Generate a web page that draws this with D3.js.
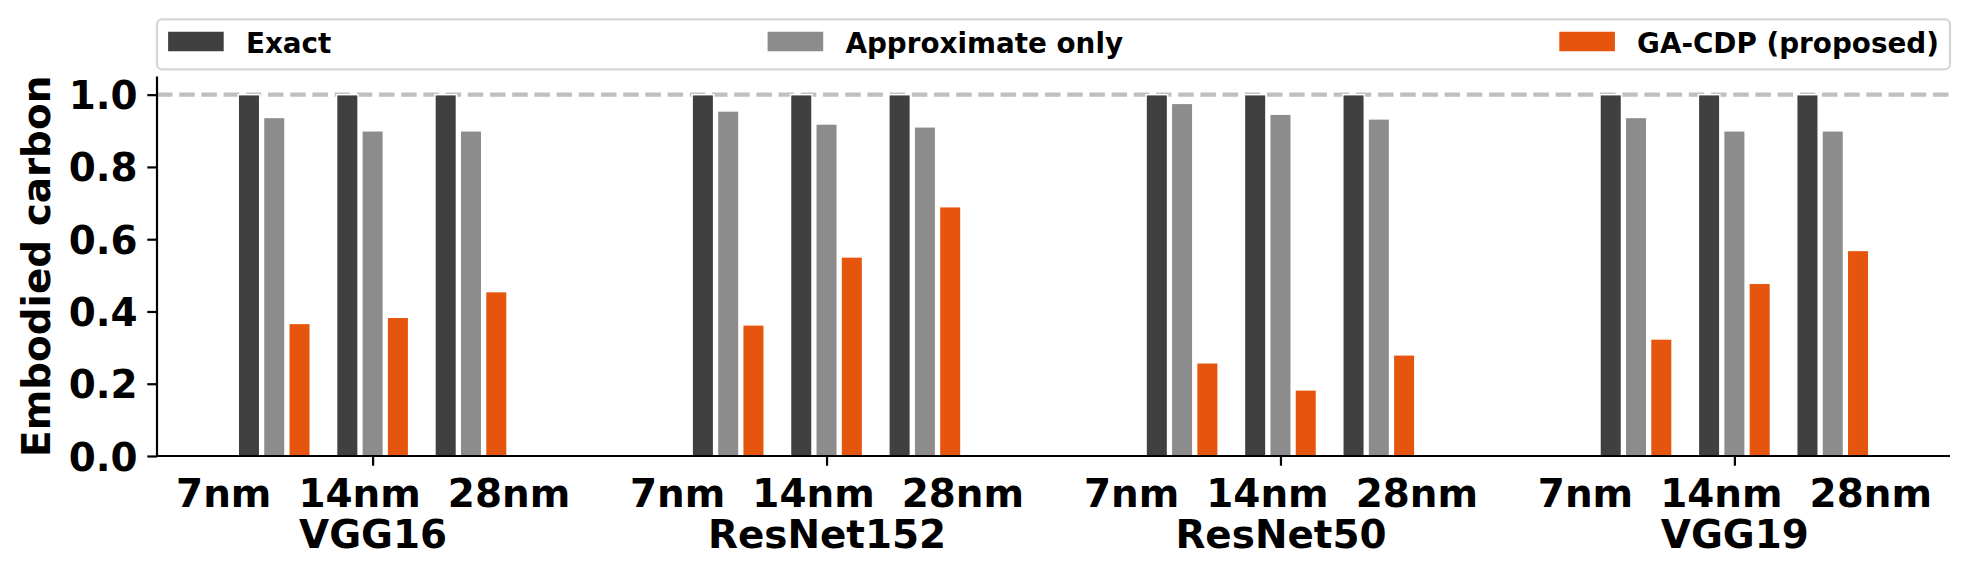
<!DOCTYPE html>
<html>
<head>
<meta charset="utf-8">
<script src="https://cdn.jsdelivr.net/npm/d3@7"></script>
<style>
  html, body { margin: 0; padding: 0; background: #ffffff; }
  svg { display: block; font-family: "DejaVu Sans", sans-serif; font-weight: bold; }
</style>
</head>
<body>
<svg id="chart" width="1970" height="577"></svg>
<script>
// ---- data ----
const models = ["VGG16", "ResNet152", "ResNet50", "VGG19"];
const nodes = ["7nm", "14nm", "28nm"];
const seriesNames = ["Exact", "Approximate only", "GA-CDP (proposed)"];
const seriesColors = ["#404040", "#8c8c8c", "#e6550d"];
// values per model, ordered by node (7nm, 14nm, 28nm)
const exactValues = [
  [1.0, 1.0, 1.0],
  [1.0, 1.0, 1.0],
  [1.0, 1.0, 1.0],
  [1.0, 1.0, 1.0]
];
const approxValues = [
  [0.937, 0.900, 0.900],
  [0.955, 0.919, 0.911],
  [0.976, 0.946, 0.933],
  [0.937, 0.900, 0.900]
];
const gacdpValues = [
  [0.367, 0.384, 0.455],
  [0.363, 0.551, 0.690],
  [0.258, 0.183, 0.280],
  [0.324, 0.478, 0.569]
];
const yTicks = [0.0, 0.2, 0.4, 0.6, 0.8, 1.0];
const referenceLine = 1.0;
const yLabel = "Embodied carbon";

// ---- layout ----
const svg = d3.select("#chart");
const plotLeft = 157, plotRight = 1950, plotTop = 76.6, plotBottom = 456;
const x = d3.scaleLinear().domain([-0.475, models.length - 1 + 0.475]).range([plotLeft, plotRight]);
const y = d3.scaleLinear().domain([0, 1.05]).range([plotBottom, plotTop]);
const subOffset = 0.2167;   // distance between node sub-groups (group units)
const barStep = 0.0557;     // distance between bars inside a sub-group
const barW = x(0.0474) - x(0);

// dashed reference line
svg.append("line")
  .attr("x1", plotLeft).attr("x2", plotRight)
  .attr("y1", y(referenceLine)).attr("y2", y(referenceLine))
  .attr("stroke", "#bfbfbf").attr("stroke-width", 4.2)
  .attr("stroke-dasharray", "15.5,6.7");

// bars
const allSeries = [exactValues, approxValues, gacdpValues];
const barData = [];
models.forEach((m, gi) => {
  nodes.forEach((n, ni) => {
    allSeries.forEach((vals, si) => {
      barData.push({ g: gi, n: ni, s: si, v: vals[gi][ni] });
    });
  });
});
svg.append("g").selectAll("rect").data(barData).join("rect")
  .attr("x", d => x(d.g + (d.n - 1) * subOffset + (d.s - 1) * barStep) - barW / 2)
  .attr("width", barW)
  .attr("y", d => y(d.v))
  .attr("height", d => y(0) - y(d.v))
  .attr("fill", d => seriesColors[d.s])
  .attr("stroke", "#ffffff")
  .attr("stroke-width", 1.5);

// y axis
const yAxis = svg.append("g")
  .attr("transform", `translate(${plotLeft},0)`)
  .call(d3.axisLeft(y).tickValues(yTicks).tickFormat(d3.format(".1f")).tickSize(9.7).tickPadding(9.7));
yAxis.select(".domain").attr("stroke", "#000").attr("stroke-width", 2.2).attr("d", `M0,${plotBottom}V${plotTop}`);
yAxis.selectAll(".tick line").attr("stroke", "#000").attr("stroke-width", 2.2);
yAxis.selectAll(".tick text")
  .attr("fill", "#000").attr("font-size", 38.9).attr("font-weight", "bold")
  .attr("font-family", "DejaVu Sans").attr("dy", "0.36em");

// x axis
const xAxis = svg.append("g")
  .attr("transform", `translate(0,${plotBottom})`)
  .call(d3.axisBottom(x).tickValues(d3.range(models.length)).tickFormat(() => "").tickSize(9.7));
xAxis.select(".domain").attr("stroke", "#000").attr("stroke-width", 2.2).attr("d", `M${plotLeft},0H${plotRight}`);
xAxis.selectAll(".tick line").attr("stroke", "#000").attr("stroke-width", 2.2);
xAxis.selectAll(".tick text").each(function(d) {
  const t = d3.select(this)
    .attr("y", 0).attr("dy", null)
    .attr("fill", "#000").attr("font-size", 38.9).attr("font-weight", "bold")
    .attr("font-family", "DejaVu Sans").attr("text-anchor", "middle")
    .style("white-space", "pre").attr("xml:space", "preserve");
  t.text(null);
  t.append("tspan").attr("x", 0).attr("y", 50.5).text(nodes.join("  "));
  t.append("tspan").attr("x", 0).attr("y", 92.3).text(models[d]);
});

// y label
svg.append("text")
  .attr("transform", `translate(50,${(plotTop + plotBottom) / 2}) rotate(-90)`)
  .attr("text-anchor", "middle")
  .attr("font-size", 38.9).attr("font-weight", "bold").attr("fill", "#000")
  .text(yLabel);

// legend (expand mode across the axes width)
const legTop = 19.3, legBottom = 69.3;
const legFont = 27.8, handleW = 55.6, handleH = 19.5, textPad = 22.2, borderPad = 11.1;
svg.append("rect")
  .attr("x", plotLeft).attr("y", legTop)
  .attr("width", plotRight - plotLeft).attr("height", legBottom - legTop)
  .attr("rx", 5).attr("ry", 5)
  .attr("fill", "#ffffff").attr("stroke", "#d6d6d6").attr("stroke-width", 2.2);
const legG = svg.append("g");
const entries = seriesNames.map((name, i) => {
  const g = legG.append("g");
  g.append("rect").attr("width", handleW).attr("height", handleH)
    .attr("y", (legTop + legBottom) / 2 - handleH / 2 - 2.8)
    .attr("fill", seriesColors[i]);
  const txt = g.append("text").attr("x", handleW + textPad)
    .attr("y", 52.6)
    .attr("font-size", legFont).attr("font-weight", "bold").attr("fill", "#000")
    .text(name);
  const w = handleW + textPad + txt.node().getComputedTextLength();
  return { g, w };
});
const innerL = plotLeft + borderPad, innerR = plotRight - borderPad;
const totalW = d3.sum(entries, e => e.w);
const gap = (innerR - innerL - totalW) / (entries.length - 1);
let cx = innerL;
entries.forEach(e => {
  e.g.attr("transform", `translate(${cx},0)`);
  cx += e.w + gap;
});
</script>
</body>
</html>
